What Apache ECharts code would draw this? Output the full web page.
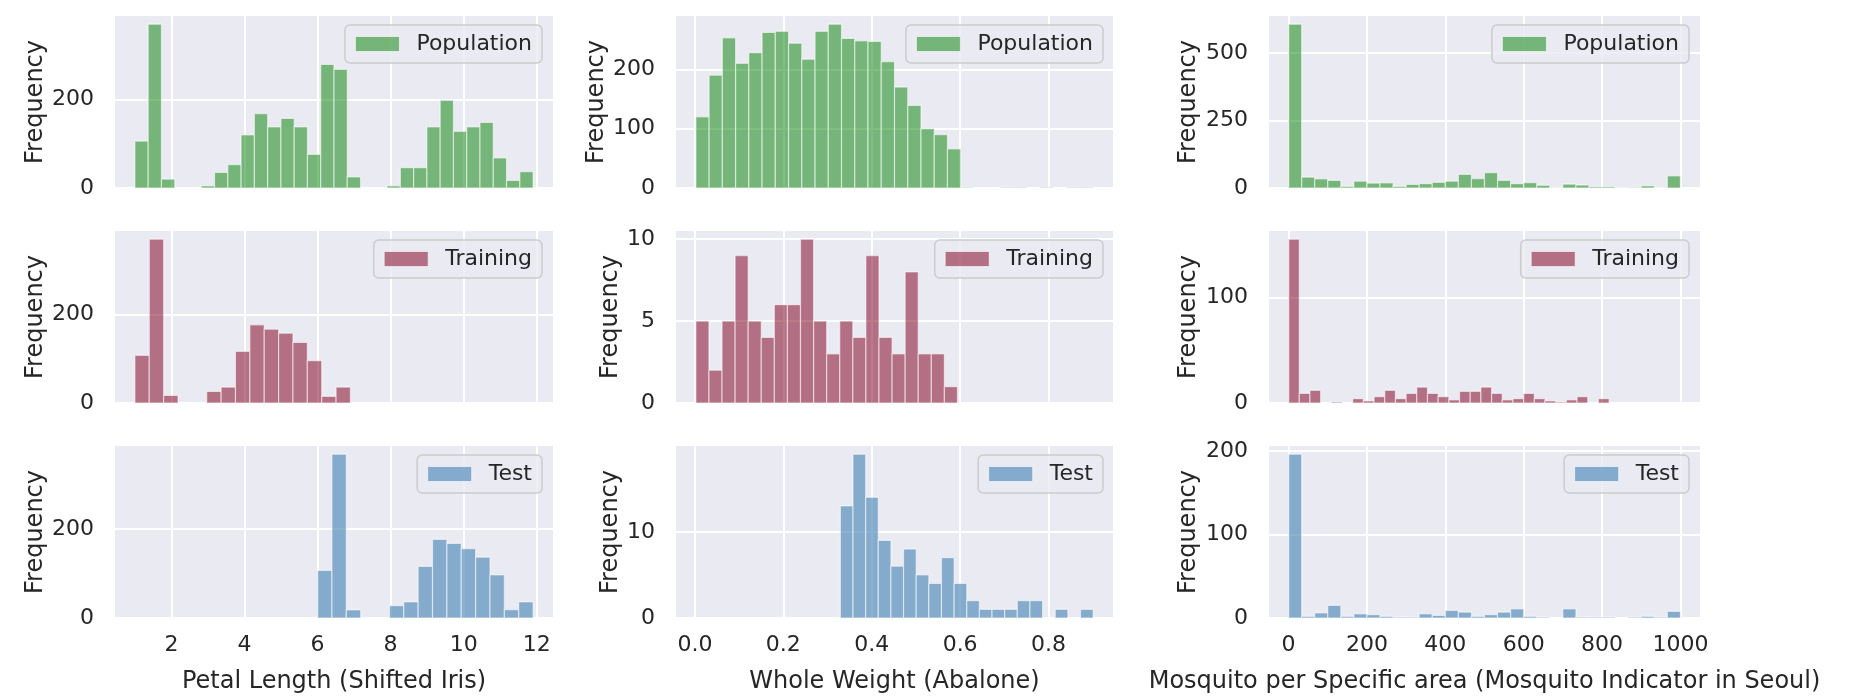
<!DOCTYPE html>
<html>
<head>
<meta charset="utf-8">
<title>Population / Training / Test histograms</title>
<script src="https://cdn.jsdelivr.net/npm/echarts@6/dist/echarts.min.js"></script>
<style>
  html, body { margin: 0; padding: 0; background: #ffffff; }
  #chart { width: 1850px; height: 700px; }
</style>
</head>
<body>
<div id="chart"></div>
<script>
// bin ranges [first edge, last edge] and counts per bin
const irisPopRange = [1.0, 11.9];
const irisPop = [106, 370, 20, 0, 0, 5, 35, 53, 120, 168, 138, 157, 138, 76, 279, 268, 25, 0, 0, 5, 46, 46, 138, 198, 128, 138, 148, 68, 17, 37];
const irisTrainRange = [1.0, 6.9];
const irisTrain = [108, 371, 17, 0, 0, 26, 36, 117, 177, 167, 158, 137, 96, 15, 36];
const irisTestRange = [6.0, 11.9];
const irisTest = [107, 369, 18, 0, 0, 28, 36, 116, 177, 168, 156, 137, 97, 19, 36];

const abPopRange = [0.002, 0.901];
const abPop = [120, 190, 253, 210, 228, 262, 264, 244, 217, 264, 276, 252, 248, 247, 213, 170, 139, 100, 90, 66, 1, 0, 0, 1, 1, 0, 1, 0, 1, 1];
const abTrainRange = [0.002, 0.594];
const abTrain = [5, 2, 5, 9, 5, 4, 6, 6, 10, 5, 3, 5, 4, 9, 4, 3, 8, 3, 3, 1];
const abTestRange = [0.329, 0.901];
const abTest = [13, 19, 14, 9, 6, 8, 5, 4, 7, 4, 2, 1, 1, 1, 2, 2, 0, 1, 0, 1];

const mqPopRange = [0, 1000];
const mqPop = [606, 40, 34, 28, 6, 25, 18, 19, 6, 13, 16, 21, 25, 50, 35, 57, 28, 16, 20, 10, 1, 14, 11, 5, 5, 1, 2, 8, 1, 45];
const mqTrainRange = [0, 818];
const mqTrain = [155, 9, 12, 0, 1, 0, 4, 2, 6, 12, 4, 9, 15, 9, 6, 3, 11, 11, 15, 9, 3, 4, 9, 4, 2, 1, 3, 6, 0, 4];
const mqTestRange = [0, 1000];
const mqTest = [196, 2, 6, 15, 2, 5, 4, 2, 1, 1, 5, 3, 9, 7, 2, 4, 7, 11, 2, 1, 0, 11, 1, 1, 1, 0, 1, 2, 1, 8];

const xTicks = [
  [2, 4, 6, 8, 10, 12],
  [0, 0.2, 0.4, 0.6, 0.8],
  [0, 200, 400, 600, 800, 1000]
];
const yTicks = [
  [[0, 200], [0, 200], [0, 200]],
  [[0, 100, 200], [0, 5, 10], [0, 10]],
  [[0, 250, 500], [0, 100], [0, 100, 200]]
];
const xLabels = ['Petal Length (Shifted Iris)', 'Whole Weight (Abalone)', 'Mosquito per Specific area (Mosquito Indicator in Seoul)'];
const rowNames = ['Population', 'Training', 'Test'];

// columns: [population, training, test] for each dataset
const panels = [
  [[irisPopRange, irisPop], [irisTrainRange, irisTrain], [irisTestRange, irisTest]],
  [[abPopRange, abPop], [abTrainRange, abTrain], [abTestRange, abTest]],
  [[mqPopRange, mqPop], [mqTrainRange, mqTrain], [mqTestRange, mqTest]]
];

const FONT = '"DejaVu Sans", sans-serif';
const TEXT = '#262626';
const colors = ['rgba(0,128,0,0.5)', 'rgba(128,0,32,0.52)', 'rgba(70,130,180,0.62)'];

const colLeft = [115, 676, 1269];
const colWidth = [438, 437, 431];
const rowTop = [16, 231, 446];
const rowHeight = 172;
const yNameGap = [67, 52, 68];
const legendRight = [1308, 747, 161];

function binsOf(range, counts) {
  const w = (range[1] - range[0]) / counts.length;
  return counts.map((c, i) => [range[0] + i * w, range[0] + (i + 1) * w, c]);
}

function renderBin(params, api) {
  const top = api.coord([api.value(0), api.value(2)]);
  const base = api.coord([api.value(1), 0]);
  return {
    type: 'rect',
    shape: { x: top[0], y: top[1], width: base[0] - top[0], height: base[1] - top[1] },
    style: { fill: api.visual('color'), stroke: 'rgba(255,255,255,0.55)', lineWidth: 1.2 }
  };
}

const grid = [], xAxis = [], yAxis = [], series = [], legend = [];

panels.forEach((col, c) => {
  // shared x limits for the column: union of bin ranges plus 5% margins
  const lo = Math.min(...col.map(p => p[0][0]));
  const hi = Math.max(...col.map(p => p[0][1]));
  const pad = (hi - lo) * 0.05;

  col.forEach(([range, counts], r) => {
    const idx = c * 3 + r;
    const bottom = r === 2;
    grid.push({
      left: colLeft[c], top: rowTop[r], width: colWidth[c], height: rowHeight,
      show: true, backgroundColor: '#EAEAF2', borderWidth: 0
    });
    xAxis.push({
      type: 'value', gridIndex: idx, min: lo - pad, max: hi + pad,
      axisLine: { show: false }, axisTick: { show: false, customValues: xTicks[c] },
      splitLine: { show: true, lineStyle: { color: '#ffffff', width: 2 } },
      axisLabel: {
        show: bottom, customValues: xTicks[c], margin: 16,
        fontSize: 22, color: TEXT, fontFamily: FONT,
        formatter: v => (c === 1 ? v.toFixed(1) : String(v))
      },
      name: bottom ? xLabels[c] : '', nameLocation: 'middle', nameGap: 52,
      nameTextStyle: { fontSize: 24, color: TEXT, fontFamily: FONT }
    });
    yAxis.push({
      type: 'value', gridIndex: idx, min: 0, max: Math.max(...counts) * 1.05,
      axisLine: { show: false }, axisTick: { show: false, customValues: yTicks[c][r] },
      splitLine: { show: true, lineStyle: { color: '#ffffff', width: 2 } },
      axisLabel: { customValues: yTicks[c][r], margin: 21, fontSize: 22, color: TEXT, fontFamily: FONT },
      name: 'Frequency', nameLocation: 'middle', nameRotate: 90, nameGap: yNameGap[c],
      nameTextStyle: { fontSize: 24, color: TEXT, fontFamily: FONT }
    });
    series.push({
      type: 'custom', name: rowNames[r], xAxisIndex: idx, yAxisIndex: idx,
      itemStyle: { color: colors[r] },
      encode: { x: [0, 1], y: 2 },
      renderItem: renderBin,
      data: binsOf(range, counts),
      silent: true
    });
    legend.push({
      data: [rowNames[r]], right: legendRight[c], top: rowTop[r] + 9,
      icon: 'rect', itemWidth: 44, itemHeight: 15, selectedMode: false,
      backgroundColor: 'rgba(234,234,242,0.8)', borderColor: '#CCCCCC', borderWidth: 1.5, borderRadius: 5,
      padding: [8, 10, 8, 10],
      itemStyle: { borderColor: 'rgba(255,255,255,0.6)', borderWidth: 1 },
      textStyle: { fontSize: 22, color: TEXT, fontFamily: FONT, padding: [0, 0, 0, 12] }
    });
  });
});

const chart = echarts.init(document.getElementById('chart'), null, { renderer: 'canvas' });
chart.setOption({
  animation: false,
  backgroundColor: '#ffffff',
  grid, xAxis, yAxis, series, legend
});
</script>
</body>
</html>
